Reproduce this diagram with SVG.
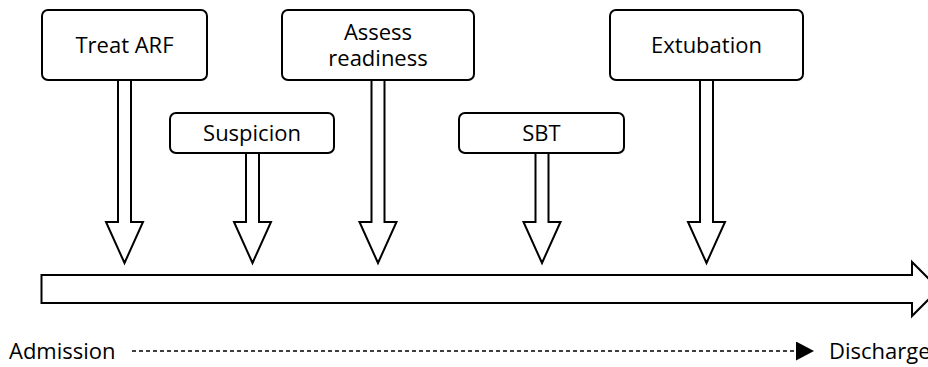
<svg xmlns="http://www.w3.org/2000/svg" width="928" height="367" viewBox="0 0 928 367">
<style>
.box{fill:#fff;stroke:#000;stroke-width:2}
.arr{fill:#fff;stroke:#000;stroke-width:2;stroke-linejoin:miter}
.lbl{font-family:"Open Sans","Noto Sans",sans-serif;font-size:22px;fill:#000;text-anchor:middle}
.side{font-family:"Open Sans","Noto Sans",sans-serif;font-size:22px;fill:#000}
</style>
<defs>
<marker id="tri" viewBox="0 0 18 19" refX="0" refY="9.5" markerWidth="18" markerHeight="19" markerUnits="userSpaceOnUse" orient="auto">
<path d="M0,0 L18,9.5 L0,19 Z" fill="#000"/>
</marker>
</defs>
<rect width="928" height="367" fill="#fff"/>
<g id="connectors">
<path class="arr" d="M118,80 V222 H106 L124.5,263 L143,222 H131 V80"/>
<path class="arr" d="M246,153 V222 H234 L252.5,263 L271,222 H259 V153"/>
<path class="arr" d="M371.5,80 V222 H359.5 L378,263 L396.5,222 H384.5 V80"/>
<path class="arr" d="M535.5,153 V222 H523.5 L542,263 L560.5,222 H548.5 V153"/>
<path class="arr" d="M700,80 V222 H688 L706.5,263 L725,222 H713 V80"/>
<path d="M132,351 H796" fill="none" stroke="#000" stroke-width="1.4" stroke-dasharray="4,3" marker-end="url(#tri)"/>
</g>
<g id="timeline">
<path class="arr" d="M41.5,275 H912 V262 L939,289 L912,316 V303 H41.5 Z"/>
</g>
<g id="node-treat">
<rect class="box" x="42" y="10" width="165" height="70" rx="6"/>
<text class="lbl" x="124.5" y="52.5">Treat ARF</text>
</g>
<g id="node-suspicion">
<rect class="box" x="170" y="113" width="164" height="40" rx="6"/>
<text class="lbl" x="252" y="141">Suspicion</text>
</g>
<g id="node-assess">
<rect class="box" x="282" y="10" width="192" height="70" rx="6"/>
<text class="lbl" x="378" y="39.5">Assess</text>
<text class="lbl" x="378" y="65.5">readiness</text>
</g>
<g id="node-sbt">
<rect class="box" x="459" y="113" width="165" height="40" rx="6"/>
<text class="lbl" x="541.5" y="141">SBT</text>
</g>
<g id="node-extubation">
<rect class="box" x="610" y="10" width="193" height="70" rx="6"/>
<text class="lbl" x="706.5" y="52.5">Extubation</text>
</g>
<g id="axis-labels">
<text class="side" x="9" y="359">Admission</text>
<text class="side" x="829" y="359">Discharge</text>
</g>
</svg>
